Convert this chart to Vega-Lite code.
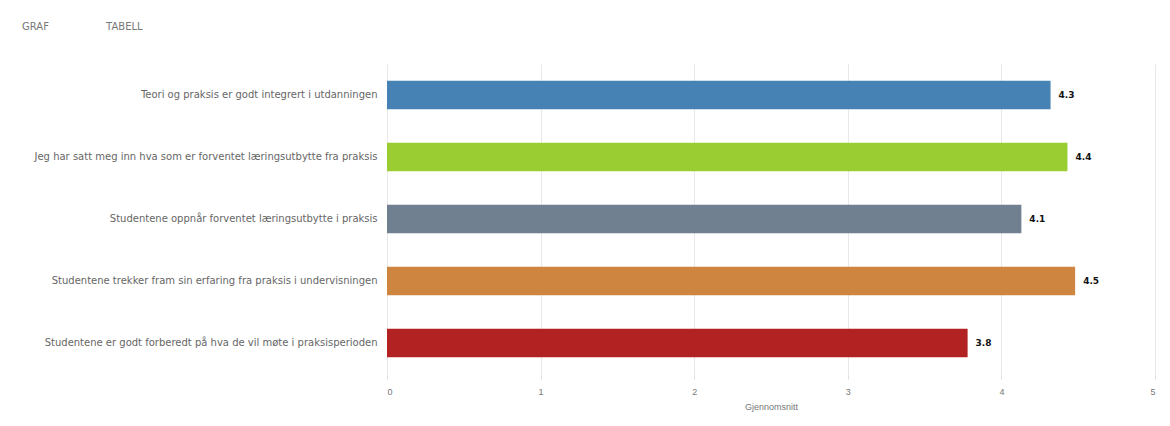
{
  "$schema": "https://vega.github.io/schema/vega-lite/v6.json",
  "autosize": {"type": "none"},
  "width": 768,
  "height": 310,
  "padding": {"left": 387, "top": 64, "right": 15, "bottom": 52},
  "background": "white",
  "title": {
    "text": "GRAF\u00a0\u00a0\u00a0\u00a0\u00a0\u00a0\u00a0\u00a0\u00a0\u00a0\u00a0\u00a0\u00a0\u00a0\u00a0\u00a0\u00a0\u00a0TABELL",
    "anchor": "start",
    "frame": "group",
    "dx": -365,
    "offset": 32,
    "fontSize": 10,
    "font": "DejaVu Sans",
    "fontWeight": "normal",
    "color": "#777777"
  },
  "data": {
    "values": [
      {"sporsmal": "Teori og praksis er godt integrert i utdanningen", "snitt": 4.32, "label": "4.3", "farge": "#4682b4"},
      {"sporsmal": "Jeg har satt meg inn hva som er forventet læringsutbytte fra praksis", "snitt": 4.43, "label": "4.4", "farge": "#9acd32"},
      {"sporsmal": "Studentene oppnår forventet læringsutbytte i praksis", "snitt": 4.13, "label": "4.1", "farge": "#708090"},
      {"sporsmal": "Studentene trekker fram sin erfaring fra praksis i undervisningen", "snitt": 4.48, "label": "4.5", "farge": "#cd853f"},
      {"sporsmal": "Studentene er godt forberedt på hva de vil møte i praksisperioden", "snitt": 3.78, "label": "3.8", "farge": "#b22222"}
    ]
  },
  "encoding": {
    "y": {
      "field": "sporsmal",
      "type": "nominal",
      "sort": null,
      "scale": {"paddingInner": 0.54, "paddingOuter": 0.27},
      "axis": {
        "title": null,
        "ticks": false,
        "domain": false,
        "labelFontSize": 10,
        "labelColor": "#666666",
        "labelPadding": 10,
        "labelLimit": 400,
        "labelFont": "DejaVu Sans"
      }
    },
    "x": {
      "field": "snitt",
      "type": "quantitative",
      "scale": {"domain": [0, 5], "nice": false},
      "axis": {
        "title": "Gjennomsnitt",
        "titleFontSize": 9,
        "titleFontWeight": "normal",
        "titleColor": "#777777",
        "titlePadding": 6,
        "labelFontSize": 9,
        "labelColor": "#777777",
        "values": [0, 1, 2, 3, 4, 5],
        "format": "d",
        "grid": true,
        "gridColor": "#e8e8e8",
        "domain": false,
        "tickColor": "#dddddd",
        "tickSize": 5,
        "labelPadding": 8
      }
    }
  },
  "layer": [
    {
      "mark": {"type": "bar"},
      "encoding": {
        "color": {"field": "farge", "type": "nominal", "scale": null, "legend": null}
      }
    },
    {
      "mark": {"type": "text", "align": "left", "dx": 8, "fontSize": 9, "fontWeight": "bold", "color": "#111111", "font": "DejaVu Sans"},
      "encoding": {"text": {"field": "label"}}
    }
  ],
  "config": {"view": {"stroke": null}}
}
